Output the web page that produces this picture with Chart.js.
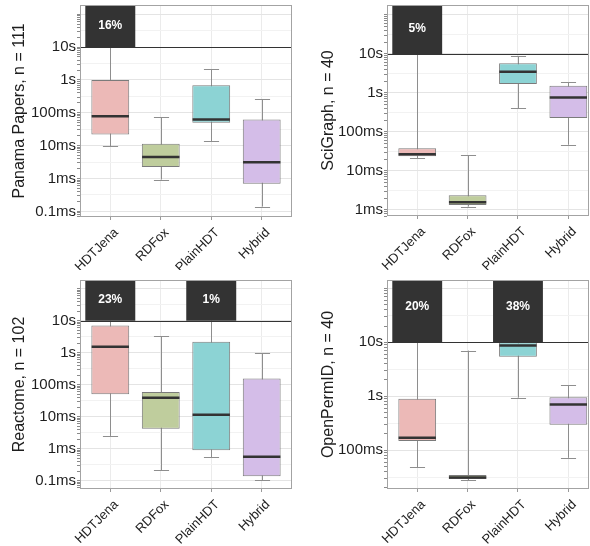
<!DOCTYPE html>
<html>
<head>
<meta charset="utf-8">
<script src="https://cdn.jsdelivr.net/npm/chart.js@4.4.0/dist/chart.umd.min.js"></script>
<style>
  html, body { margin: 0; padding: 0; background: #fff; }
  #wrap { position: relative; width: 590px; height: 546px; }
  .panel { position: absolute; }
</style>
</head>
<body>
<div id="wrap">
  <div class="panel" style="left:0;top:0;width:295px;height:270px"><canvas id="c0"></canvas></div>
  <div class="panel" style="left:295px;top:0;width:295px;height:270px"><canvas id="c1"></canvas></div>
  <div class="panel" style="left:0;top:270px;width:295px;height:276px"><canvas id="c2"></canvas></div>
  <div class="panel" style="left:295px;top:270px;width:295px;height:276px"><canvas id="c3"></canvas></div>
</div>
<script>
const categories = ["HDTJena", "RDFox", "PlainHDT", "Hybrid"];

// [min, q1, median, q3, max] in ms, one row per category
const panamaStats = [[9.7, 22, 79, 1000, 10000], [0.93, 2.25, 4.5, 11.4, 72], [13.4, 50, 63, 690, 2150], [0.14, 0.7, 3.15, 63, 263]];
const panamaTimeouts = [16, 0, 0, 0];
const sciGraphStats = [[21, 24, 27, 38, 10000], [1.22, 1.35, 1.58, 2.4, 25], [405, 1700, 3500, 5800, 8900], [47, 228, 760, 1540, 1880]];
const sciGraphTimeouts = [5, 0, 0, 0];
const reactomeStats = [[2.5, 50, 1540, 7000, 10000], [0.21, 4.2, 39, 59, 3200], [0.55, 0.89, 11.5, 2200, 10000], [0.105, 0.137, 0.56, 155, 950]];
const reactomeTimeouts = [23, 0, 1, 0];
const openPermIdStats = [[48, 147, 170, 900, 10000], [27.5, 29, 31, 34.5, 7000], [940, 5400, 8700, 10000, 10000], [72, 295, 700, 960, 1600]];
const openPermIdTimeouts = [20, 0, 38, 0];

const tickValues = [0.1, 1, 10, 100, 1000, 10000];
const tickLabels = ["0.1ms", "1ms", "10ms", "100ms", "1s", "10s"];
const timeoutLimit = 10000;   // 10s
const timeoutLabelAt = 45000; // where the % text sits in the band

const boxColors = ["#ecb9b7", "#bfcd9d", "#8cd3d4", "#d4bde8"];
const fontFamily = "'Liberation Sans', Arial, Helvetica, sans-serif";

const panels = [
  { id: "c0", title: "Panama Papers, n = 111", stats: panamaStats, timeouts: panamaTimeouts,
    yMin: 0.0676, yMax: 190000, xMax: 4.6, yw: 80, xh: 53, pt: 5, pr: 3, titlePad: 10 },
  { id: "c1", title: "SciGraph, n = 40", stats: sciGraphStats, timeouts: sciGraphTimeouts,
    yMin: 0.70, yMax: 180000, xMax: 4.41, yw: 92, xh: 54, pt: 5, pr: 1, titlePad: 24 },
  { id: "c2", title: "Reactome, n = 102", stats: reactomeStats, timeouts: reactomeTimeouts,
    yMin: 0.055, yMax: 186000, xMax: 4.6, yw: 80, xh: 57, pt: 10, pr: 3, titlePad: 10 },
  { id: "c3", title: "OpenPermID, n = 40", stats: openPermIdStats, timeouts: openPermIdTimeouts,
    yMin: 19, yMax: 142600, xMax: 4.41, yw: 92, xh: 57, pt: 10, pr: 1, titlePad: 24 }
];

function isDecade(v) {
  const l = Math.log10(v);
  return Math.abs(l - Math.round(l)) < 1e-6;
}
function isHalf(v) {
  const l = Math.log10(v) - 0.5;
  return Math.abs(l - Math.round(l)) < 1e-6;
}
function labelFor(v) {
  const k = tickValues.findIndex(t => Math.abs(t - v) / t < 1e-6);
  return k >= 0 ? tickLabels[k] : "";
}

// major, half-decade and log ticks (2..9)
function logTicks(min, max) {
  const out = [];
  for (let e = -2; e <= 5; e++) {
    for (let m = 1; m <= 9; m++) out.push(m * Math.pow(10, e));
    out.push(Math.pow(10, e + 0.5));
  }
  return out.filter(v => v >= min && v <= max).sort((a, b) => a - b).map(v => ({ value: v }));
}

const boxExtras = {
  id: "boxExtras",
  beforeDatasetsDraw(chart, args, opts) {
    const { ctx, scales: { x, y } } = chart;
    ctx.save();
    ctx.strokeStyle = "#8e8e8e";
    ctx.lineWidth = 1;
    opts.stats.forEach((s, i) => {
      const px = Math.round(x.getPixelForValue(i + 1)) + 0.5;
      const cap = x.getPixelForValue(i + 1.15) - x.getPixelForValue(i + 1);
      ctx.beginPath();
      ctx.moveTo(px, y.getPixelForValue(s[0]));
      ctx.lineTo(px, y.getPixelForValue(s[4]));
      [s[0], s[4]].forEach(v => {
        if (v >= timeoutLimit) return;
        const py = Math.round(y.getPixelForValue(v)) + 0.5;
        ctx.moveTo(px - cap, py);
        ctx.lineTo(px + cap, py);
      });
      ctx.stroke();
    });
    ctx.restore();
  },
  afterDatasetsDraw(chart, args, opts) {
    const { ctx, chartArea: a, scales: { x, y } } = chart;
    ctx.save();
    // medians
    ctx.strokeStyle = "#333333";
    ctx.lineWidth = 2.5;
    opts.stats.forEach((s, i) => {
      const py = y.getPixelForValue(s[2]);
      ctx.beginPath();
      ctx.moveTo(x.getPixelForValue(i + 1 - 0.37), py);
      ctx.lineTo(x.getPixelForValue(i + 1 + 0.37), py);
      ctx.stroke();
    });
    // timeout line
    const ly = Math.round(y.getPixelForValue(timeoutLimit)) + 0.5;
    ctx.strokeStyle = "#333333";
    ctx.lineWidth = 1.2;
    ctx.beginPath();
    ctx.moveTo(a.left, ly);
    ctx.lineTo(a.right, ly);
    ctx.stroke();
    // percentages
    ctx.fillStyle = "#ffffff";
    ctx.font = "bold 12px " + fontFamily;
    ctx.textAlign = "center";
    ctx.textBaseline = "middle";
    opts.timeouts.forEach((p, i) => {
      if (p > 0) ctx.fillText(p + "%", x.getPixelForValue(i + 1), y.getPixelForValue(timeoutLabelAt));
    });
    // panel border
    ctx.strokeStyle = "#a3a3a3";
    ctx.lineWidth = 1;
    ctx.strokeRect(a.left + 0.5, a.top + 0.5, a.right - a.left - 1, a.bottom - a.top - 1);
    ctx.restore();
  }
};

function makePanel(p) {
  const boxData = p.stats.map((s, i) => ({ x: i + 1, y: [s[1], s[3]] }));
  const timeoutData = p.timeouts
    .map((t, i) => (t > 0 ? { x: i + 1, y: [timeoutLimit, p.yMax] } : null))
    .filter(d => d !== null);

  new Chart(document.getElementById(p.id), {
    type: "bar",
    data: {
      datasets: [
        {
          label: "timeouts",
          data: timeoutData,
          backgroundColor: "#333333",
          borderWidth: 0,
          barPercentage: 0.99,
          categoryPercentage: 1,
          grouped: false,
          order: 1
        },
        {
          label: "box",
          data: boxData,
          backgroundColor: boxColors,
          borderColor: "#7b7b7b",
          borderWidth: 1,
          borderSkipped: false,
          barPercentage: 0.75,
          categoryPercentage: 1,
          grouped: false,
          order: 2
        }
      ]
    },
    options: {
      responsive: true,
      maintainAspectRatio: false,
      animation: false,
      devicePixelRatio: 1,
      layout: { padding: { left: 0, right: p.pr, top: p.pt, bottom: 0 } },
      plugins: {
        legend: { display: false },
        tooltip: { enabled: false },
        boxExtras: { stats: p.stats, timeouts: p.timeouts }
      },
      scales: {
        x: {
          type: "linear",
          offset: false,
          min: 0.4,
          max: p.xMax,
          afterBuildTicks: s => { s.ticks = categories.map((c, i) => ({ value: i + 1 })); },
          afterFit: s => { s.height = p.xh; },
          ticks: {
            callback: v => categories[v - 1] || "",
            minRotation: 45,
            maxRotation: 45,
            autoSkip: false,
            padding: 5,
            labelOffset: 6,
            color: "#1e1e1e",
            font: { family: fontFamily, size: 13 }
          },
          grid: { offset: false, color: "#ebebeb", tickColor: "#9a9a9a", tickLength: 3 },
          border: { display: false }
        },
        y: {
          type: "logarithmic",
          min: p.yMin,
          max: p.yMax,
          afterBuildTicks: s => { s.ticks = logTicks(p.yMin, p.yMax); },
          afterFit: s => { s.width = p.yw; },
          ticks: {
            autoSkip: false,
            padding: 1,
            color: "#1e1e1e",
            font: c => ({ family: fontFamily, size: labelFor(c.tick.value) ? 15 : 1 }),
            callback: v => labelFor(v)
          },
          grid: {
            color: c => (isDecade(c.tick.value) ? "#e4e4e4" : isHalf(c.tick.value) ? "#f2f2f2" : "rgba(0,0,0,0)"),
            tickColor: c => (isHalf(c.tick.value) ? "rgba(0,0,0,0)" : "#8a8a8a"),
            tickLength: 3
          },
          border: { display: false },
          title: {
            display: true,
            text: p.title,
            color: "#1e1e1e",
            font: { family: fontFamily, size: 16 },
            padding: { top: p.titlePad, bottom: 0 }
          }
        }
      }
    },
    plugins: [boxExtras]
  });
}

panels.forEach(makePanel);
</script>
</body>
</html>
